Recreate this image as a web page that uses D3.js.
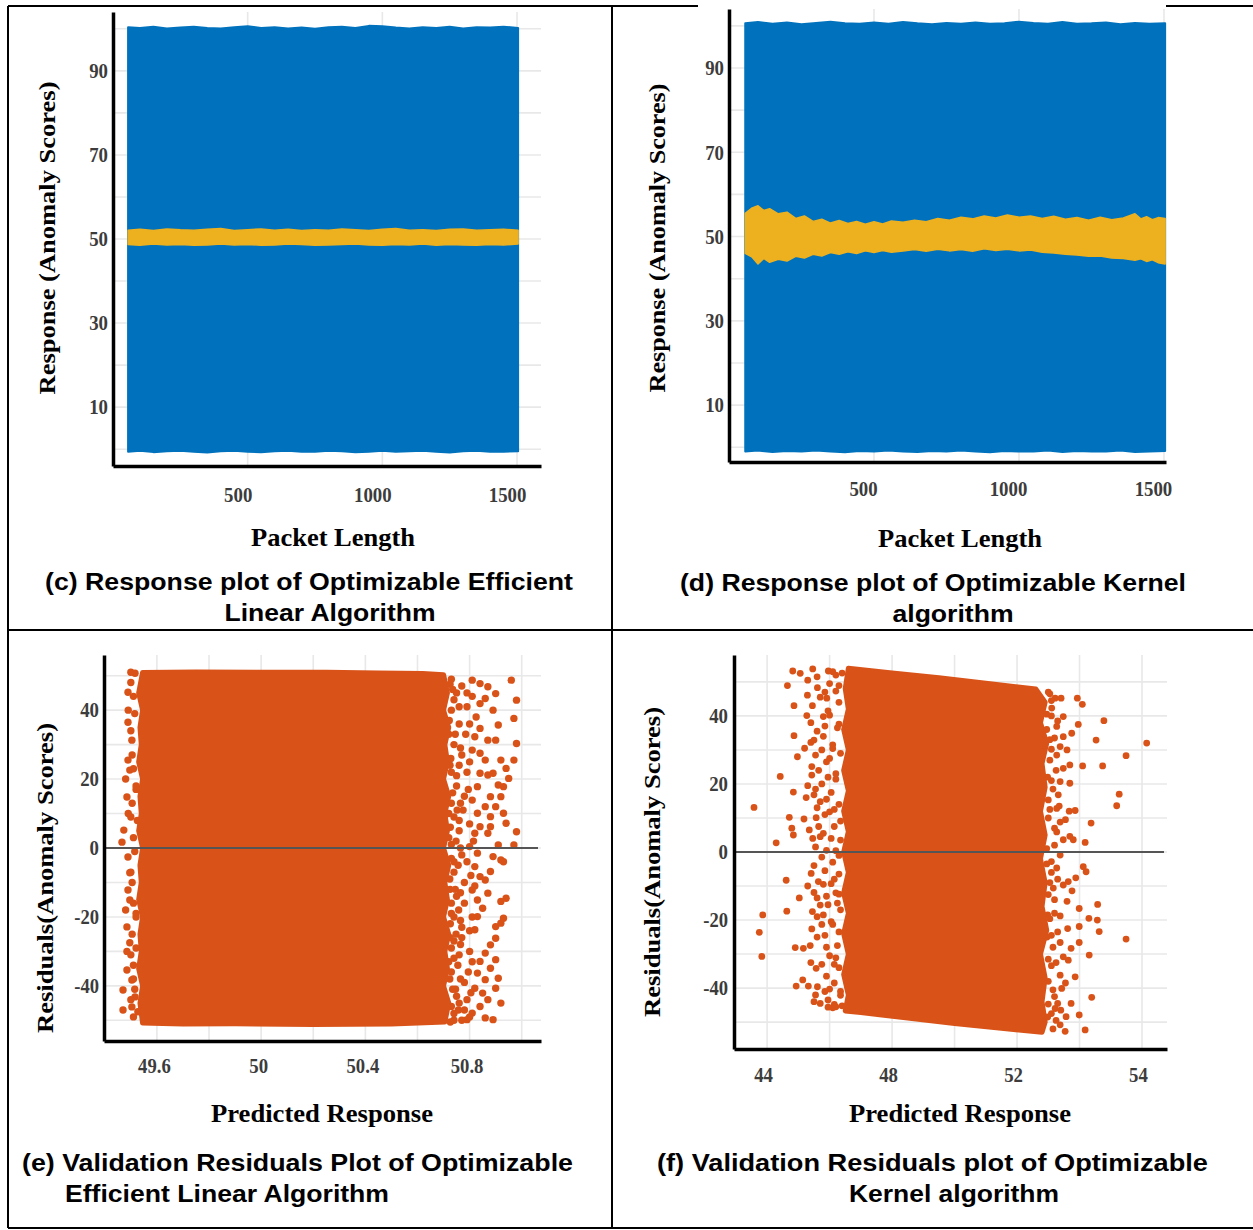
<!DOCTYPE html>
<html>
<head>
<meta charset="utf-8">
<script src="https://cdn.jsdelivr.net/npm/d3@7"></script>
<style>
  body { margin: 0; background: #fff; }
  svg { display: block; }
</style>
</head>
<body>
<svg id="fig" width="1253" height="1230"></svg>
<script>
// ---- (c) / (d) response plots: packet length vs anomaly score ----
var packetLen = [56, 100, 150, 200, 250, 300, 350, 400, 450, 500, 550, 600, 650, 700, 750,
  800, 850, 900, 950, 1000, 1050, 1100, 1150, 1200, 1250, 1300, 1350, 1400, 1450, 1504];

var cTrueTop = [100.4, 100.2, 100.5, 100.1, 100.3, 100.5, 100.2, 100.1, 100.4, 100.6, 100.2, 100.4, 100.1, 100.3, 100.0,
  100.4, 100.5, 100.2, 100.7, 100.6, 100.3, 100.1, 100.4, 100.2, 100.5, 100.1, 100.4, 100.3, 100.5, 100.2];
var cTrueBottom = [-0.6, -0.4, -0.7, -0.5, -0.4, -0.6, -0.8, -0.5, -0.4, -0.6, -0.7, -0.5, -0.4, -0.6, -0.6,
  -0.4, -0.5, -0.7, -0.6, -0.4, -0.6, -0.5, -0.4, -0.6, -0.8, -0.5, -0.4, -0.6, -0.6, -0.5];
var cPredTop = [52.1, 52.3, 52.0, 52.4, 52.2, 52.1, 52.3, 52.5, 52.0, 52.2, 52.4, 52.1, 52.3, 52.0, 52.2,
  52.1, 52.4, 52.2, 52.0, 52.3, 52.5, 52.1, 52.2, 52.0, 52.3, 52.4, 52.1, 52.2, 52.3, 52.1];
var cPredBottom = [48.7, 48.5, 48.8, 48.6, 48.7, 48.5, 48.6, 48.8, 48.6, 48.7, 48.5, 48.6, 48.8, 48.7, 48.5,
  48.6, 48.7, 48.8, 48.6, 48.5, 48.7, 48.6, 48.8, 48.5, 48.7, 48.6, 48.5, 48.7, 48.6, 48.8];

var dTrueTop = [100.6, 100.9, 100.5, 100.8, 100.4, 100.7, 101.0, 100.6, 100.5, 100.8, 100.5, 100.9, 100.6, 100.4, 100.7,
  100.5, 100.8, 100.5, 100.6, 101.0, 100.7, 100.5, 100.9, 100.5, 100.6, 100.8, 100.4, 100.7, 100.5, 100.6];
var dTrueBottom = [-1.0, -0.8, -1.1, -0.9, -1.0, -0.8, -1.0, -1.2, -0.9, -1.0, -0.8, -1.0, -1.1, -0.9, -1.0,
  -0.8, -1.0, -1.2, -0.9, -1.0, -1.0, -0.8, -1.1, -0.9, -1.0, -1.0, -0.8, -1.1, -1.0, -0.9];

var dPredX = [56, 80, 100, 120, 140, 170, 200, 230, 260, 290, 320, 350, 380, 410, 440, 470, 500, 530, 560, 600,
  640, 680, 720, 760, 800, 840, 880, 920, 960, 1000, 1040, 1080, 1120, 1160, 1200, 1240, 1280, 1320, 1360, 1400,
  1420, 1440, 1460, 1480, 1504];
var dPredTop = [55.5, 56.8, 57.3, 56.2, 56.6, 55.4, 55.8, 54.3, 54.9, 53.6, 54.1, 53.2, 53.8, 53.1, 53.6, 52.9,
  53.5, 53.0, 53.7, 53.4, 53.9, 53.5, 54.3, 53.9, 54.6, 54.2, 54.9, 54.4, 55.1, 54.6, 54.9, 54.3, 54.8, 54.1,
  54.5, 53.9, 54.6, 54.0, 54.4, 55.4, 54.2, 54.7, 54.0, 54.5, 54.3];
var dPredBottom = [46.0, 45.1, 43.5, 44.8, 43.9, 44.6, 44.2, 45.3, 44.9, 45.8, 45.4, 46.2, 45.8, 46.4, 46.0, 46.6,
  46.2, 46.7, 46.3, 46.6, 46.9, 46.5, 47.0, 46.6, 46.9, 46.5, 47.1, 46.7, 47.0, 46.6, 46.8, 46.3, 46.1, 45.8,
  45.6, 45.3, 45.4, 44.9, 44.8, 44.4, 44.7, 44.1, 44.5, 43.8, 43.5];

var respYTicks = [10, 30, 50, 70, 90];
var respYLabels = ["10", "30", "50", "70", "90"];
var respXTicks = [500, 1000, 1500];
var respXLabels = ["500", "1000", "1500"];

// ---- (e) residuals, efficient linear: [predicted, residual] ----
var eCore = [[49.545, 50.9], [49.75, 51.1], [50.0, 51.0], [50.25, 51.0], [50.45, 50.8], [50.62, 50.6], [50.70, 50.3],
  [50.715, 45], [50.70, 40], [50.72, 35], [50.705, 30], [50.715, 25], [50.70, 20], [50.72, 15], [50.705, 10],
  [50.715, 5], [50.70, 0], [50.72, -5], [50.705, -10], [50.715, -15], [50.70, -20], [50.72, -25], [50.705, -30],
  [50.715, -35], [50.70, -40], [50.72, -45], [50.705, -50.5],
  [50.5, -51.1], [50.2, -51.2], [49.9, -51.0], [49.7, -51.1], [49.545, -50.8],
  [49.535, -45], [49.545, -40], [49.53, -35], [49.54, -30], [49.535, -25], [49.545, -20], [49.53, -15],
  [49.54, -10], [49.535, -5], [49.545, 0], [49.53, 5], [49.54, 10], [49.535, 15], [49.545, 20], [49.53, 25],
  [49.54, 30], [49.535, 35], [49.545, 40], [49.53, 45]];
var eEdgeDots = [
  [49.516, 50.7], [49.489, 45.2], [49.489, 36.5], [49.504, 31.3], [49.489, 25.5], [49.496, 22.6], [49.485, 14.8],
  [49.473, 5.2], [49.466, 1.7], [49.489, -2.6], [49.496, -7.2], [49.489, -12.2], [49.496, -15.1], [49.485, -22.9],
  [49.496, -27.5], [49.485, -35.4], [49.504, -38.3], [49.470, -41.2], [49.470, -47], [49.504, -46.1], [49.516, -43.2],
  [49.527, -47.5], [49.52, 18], [49.52, -20], [49.51, 44], [49.51, -38], [49.525, 8], [49.52, -29],
  [49.50, 48], [49.515, 39], [49.505, 27], [49.52, 17], [49.50, 9], [49.515, -1], [49.505, -10], [49.52, -19],
  [49.50, -31], [49.515, -41], [49.51, -49], [49.485, -30], [49.48, 20], [49.49, 40],
  [49.5, 34], [49.51, 23], [49.505, 13], [49.51, 3], [49.5, -7], [49.51, -16], [49.505, -25], [49.51, -34],
  [49.5, -44], [49.49, 10], [49.48, -18], [49.5, 51],
  [50.96, 48.7], [50.98, 42.9], [50.97, 37.6], [50.98, 30.3], [50.97, 25.5], [50.92, 25.5], [50.94, 23.1],
  [50.95, 20.2], [50.91, 18.3], [50.93, 17.8], [50.92, 14.9], [50.93, 10.1], [50.94, 7.2], [50.98, 4.7],
  [50.97, 0.9], [50.91, 0.9], [50.92, -3.5], [50.93, -4], [50.88, -6.8], [50.94, -14.6], [50.92, -15.5],
  [50.93, -20.4], [50.92, -21.8], [50.90, -26.2], [50.88, -28.1], [50.90, -32.4], [50.88, -34.9], [50.91, -37.8],
  [50.90, -40.7], [50.92, -45], [50.89, -49.8], [50.86, -49.3], [50.87, -44], [50.85, -42.1], [50.86, -38.2],
  [50.90, -22.8], [50.85, -17.5], [50.87, -13.1], [50.86, -9.3], [50.89, -2.5], [50.87, 4.3], [50.88, 6.2],
  [50.88, 9.1], [50.86, 12], [50.90, 12], [50.88, 14.9], [50.89, 21.7], [50.87, 21.2], [50.86, 25.5],
  [50.90, 31.3], [50.91, 35.7], [50.89, 40], [50.90, 44.8], [50.87, 46.8], [50.84, 47.7], [50.81, 48.7],
  [50.86, 43.4], [50.84, 41.9], [50.84, 34.7], [50.87, 31.3], [50.82, 32.3], [50.81, 28.4], [50.84, 27.5],
  [50.84, 21.7], [50.83, 17.8], [50.81, 13.9], [50.83, 10.1], [50.84, 6.2], [50.82, 4.3], [50.80, 0.4],
  [50.83, -1.5], [50.82, -5.4], [50.84, -8.3], [50.81, -12.2], [50.83, -15.1], [50.83, -19.9], [50.82, -23.7],
  [50.86, -30.5], [50.84, -32.9], [50.83, -36.3], [50.82, -40.7], [50.84, -46], [50.81, -47.9], [50.79, -49.8],
  [50.73, 49], [50.75, 45], [50.73, 40], [50.76, 36], [50.74, 30], [50.77, 27], [50.73, 22], [50.75, 18],
  [50.78, 15], [50.74, 9], [50.76, 5], [50.73, 1], [50.77, -2], [50.74, -7], [50.78, -10], [50.75, -14],
  [50.73, -19], [50.77, -23], [50.74, -27], [50.76, -31], [50.73, -36], [50.78, -39], [50.75, -43], [50.74, -48],
  [50.77, -50], [50.79, 41], [50.79, 22], [50.80, -30], [50.79, -44], [50.80, 7],
  [50.725, 47.5], [50.74, 43], [50.722, 37], [50.745, 33], [50.728, 26], [50.75, 21], [50.73, 13], [50.752, 11],
  [50.726, 6], [50.748, 2], [50.73, -3], [50.756, -5], [50.724, -9], [50.745, -12], [50.73, -16], [50.758, -18],
  [50.726, -22], [50.748, -25], [50.73, -29], [50.755, -34], [50.724, -38], [50.746, -41], [50.73, -46],
  [50.757, -47], [50.726, -50.5], [50.77, 47], [50.785, 33], [50.775, 11], [50.79, -4], [50.78, -16], [50.77, -26],
  [50.795, -36], [50.78, -47], [50.81, 44], [50.80, 25], [50.815, 2], [50.81, -20], [50.805, -42], [50.825, 38],
  [50.82, -11],
  [50.735, 46], [50.76, 41], [50.72, 33], [50.765, 29], [50.725, 24], [50.76, 24], [50.735, 16], [50.765, 13],
  [50.72, 10], [50.76, 8], [50.72, 3], [50.765, 0], [50.74, -4], [50.725, -12], [50.765, -13], [50.74, -20],
  [50.765, -21], [50.725, -26], [50.765, -28], [50.74, -32], [50.72, -33], [50.765, -38], [50.735, -41],
  [50.76, -45], [50.74, -50], [50.79, 45], [50.8, 36], [50.795, 17], [50.805, -8], [50.8, -24], [50.81, -33],
  [50.8, -49]];
var eXTicks = [49.6, 50, 50.4, 50.8];
var eXLabels = ["49.6", "50", "50.4", "50.8"];
var resYTicks = [-40, -20, 0, 20, 40];
var resYLabels = ["-40", "-20", "0", "20", "40"];

// ---- (f) residuals, kernel ----
var fCore = [[46.6, 54.0], [48.0, 52.6], [49.5, 51.2], [51.0, 49.6], [52.6, 47.9],
  [52.9, 44], [52.75, 38], [52.95, 32], [52.8, 26], [52.9, 19], [52.75, 12], [52.9, 5], [52.75, -2],
  [52.9, -9], [52.8, -16], [52.95, -23], [52.75, -30], [52.9, -37], [52.8, -44], [52.9, -50], [52.8, -53.0],
  [51.5, -51.8], [50.0, -50.4], [48.5, -48.8], [47.0, -47.2], [46.5, -46.7],
  [46.6, -42], [46.45, -36], [46.6, -30], [46.45, -24], [46.6, -18], [46.45, -12], [46.6, -6], [46.45, 0],
  [46.6, 6], [46.45, 12], [46.6, 18], [46.45, 24], [46.6, 30], [46.45, 36], [46.6, 42], [46.5, 48]];
var fEdgeDots = [
  [43.58, 13.1], [44.29, 2.7], [44.42, 22.2], [44.61, -8.3], [43.86, -18.5], [43.75, -23.6], [43.83, -30.7],
  [44.63, -17.4], [45.03, -13.5], [44.82, 53.2], [45.06, 52.5], [45.46, 53.8], [44.65, 48.9], [44.86, 43.0],
  [44.86, 34.2], [44.97, 28.0], [44.84, 17.6], [44.71, 10.2], [44.79, 7.0], [44.84, 5.0], [45.29, 46.1],
  [45.27, 40.1], [45.61, 48.3], [45.40, 32.2], [45.50, 32.9], [45.43, 25.1], [45.43, 22.6], [45.25, 16.0],
  [45.50, 16.8], [45.70, 14.8], [45.18, 9.7], [45.57, 10.1], [45.46, 4.0], [45.70, 4.5], [45.41, -6.3],
  [45.64, -8.7], [45.50, -11.9], [44.90, -28.1], [45.16, -28.3], [45.38, -27.5], [45.57, -34.2], [45.14, -37.6],
  [44.93, -39.4], [45.32, -39.4], [45.61, -39.6], [45.70, -44.5], [45.43, -22.6], [45.75, -21.3], [45.70, -15.6],
  [45.80, 39.8], [45.91, 45.2], [45.96, 53.2],
  [46.1, 53.0], [46.4, 52.6], [46.2, 47.3], [46.0, 40.2], [46.3, 37.6], [46.1, 30.4], [46.2, 21.4], [46.0, 11.8],
  [46.35, 9.1], [46.2, 0.4], [46.05, -9.3], [46.3, -12.4], [46.1, -21.3], [46.2, -31.1], [46.0, -40.3],
  [46.35, -42.1], [46.4, -45.2], [46.15, -44.8], [46.3, 48.9],
  [46.2, 52.0], [46.0, 49.5], [45.85, 47.0], [46.3, 44.0], [45.95, 41.5], [46.25, 36.5], [45.8, 34.0],
  [46.1, 31.5], [46.35, 29.0], [45.9, 26.5], [46.2, 23.0], [45.75, 20.0], [46.05, 17.5], [46.3, 14.0],
  [45.85, 11.0], [46.15, 7.5], [46.35, 3.5], [45.9, 0.5], [46.1, -3.0], [46.3, -6.5], [45.8, -9.5], [46.2, -12.0],
  [45.95, -15.5], [46.35, -17.0], [46.05, -20.5], [45.85, -24.5], [46.25, -27.5], [46.0, -30.5], [46.3, -34.0],
  [45.9, -36.5], [46.15, -38.5], [46.35, -41.0], [45.95, -43.5], [46.2, -45.5], [45.6, 51.5], [45.55, 28.5],
  [45.65, 7.5], [45.6, -19.0], [45.55, -42.0], [45.4, 38.0],
  [45.3, 50.5], [45.7, 45.5], [45.45, 43.0], [45.85, 37.0], [45.6, 35.5], [45.2, 30.5], [45.75, 30.0], [46.0, 27.5],
  [45.65, 24.0], [45.95, 22.0], [45.3, 19.5], [45.55, 18.5], [45.9, 15.5], [46.15, 12.5], [45.6, 13.0], [45.35, 6.5],
  [45.8, 5.5], [46.05, 4.0], [45.55, 1.5], [45.75, -1.5], [46.3, -1.0], [45.5, -4.0], [45.85, -5.5], [46.15, -8.0],
  [45.3, -10.0], [45.6, -13.5], [45.9, -13.0], [46.25, -15.0], [45.45, -17.5], [45.8, -18.5], [46.3, -23.5],
  [45.6, -25.0], [45.9, -28.0], [46.15, -33.0], [45.4, -32.5], [45.75, -33.0], [45.85, -41.0], [45.5, -44.0],
  [46.1, -45.8], [45.95, -45.6],
  [56.15, 32.0], [55.49, 28.3], [54.78, 38.6], [54.53, 32.9], [54.74, 25.3], [54.10, 25.3], [55.27, 17.0],
  [55.19, 13.6], [54.37, 8.5], [54.18, 2.8], [53.93, 45.2], [54.09, 43.4], [53.96, 37.5], [53.75, 34.9],
  [54.12, -4.3], [54.21, -5.8], [53.88, -7.6], [54.58, -15.4], [54.30, -19.5], [54.57, -20.0], [54.63, -23.4],
  [55.49, -25.6], [53.99, -16.6], [53.99, -21.9], [54.31, -30.3], [53.99, -26.6], [54.39, -42.7], [54.18, -52.3],
  [53.99, -47.9], [53.73, -44.5], [53.86, -36.7], [53.64, -31.8], [53.73, -28.3], [53.62, -22.5], [53.76, -11.4],
  [53.64, -8.7], [53.80, 3.6], [53.69, 4.6], [53.48, 3.6], [53.67, 12.0], [53.86, 12.2], [53.69, 20.2],
  [53.69, 25.6], [53.48, 24.6], [53.48, 33.9], [53.48, 39.8], [53.41, 45.2], [53.22, 45.2], [53.57, -48.4],
  [53.38, -50.8], [53.54, -52.7], [53.22, -46.0], [53.38, -36.2], [53.43, -40.1], [53.48, -30.8], [53.38, -26.6],
  [53.38, -18.8], [53.48, -9.7], [53.16, -10.6], [53.27, -4.7], [53.38, -0.9], [53.27, 5.9], [53.38, 8.8],
  [53.27, 12.8], [53.32, 16.8], [53.38, 20.7], [53.27, 28.5], [53.38, 31.0], [53.27, 36.9], [53.11, 42.3],
  [53.05, 46.5], [53.1, 30.2], [53.0, 15.3], [53.1, -2.8], [53.05, -19.6], [53.1, -33.4], [53.0, -44.7], [53.15, -52.0],
  [53.0, 47.0], [53.1, 40.0], [52.95, 36.0], [53.2, 33.5], [53.05, 27.0], [52.98, 22.0], [53.15, 18.5], [53.0, 10.0],
  [53.2, 7.0], [52.95, 1.0], [53.1, -6.0], [53.0, -12.5], [53.2, -14.0], [52.96, -25.0], [53.15, -28.0],
  [53.0, -38.0], [53.2, -42.5], [52.98, -48.5], [53.25, -49.5],
  [53.1, 44.5], [52.95, 40.5], [53.3, 38.5], [53.05, 33.0], [53.25, 24.0], [53.1, 21.0], [53.35, 13.5], [53.05, 12.5],
  [53.2, 2.0], [52.95, -3.5], [53.3, -8.0], [53.05, -9.0], [53.2, -18.0], [52.98, -18.5], [53.3, -23.5],
  [53.1, -24.5], [53.25, -32.5], [53.0, -31.5], [53.15, -40.5], [53.3, -44.5], [53.1, -47.5], [53.4, -46.5],
  [53.55, -38.5], [53.6, -14.5], [53.55, 9.5], [53.6, 30.0]];
var fXTicks = [44, 48, 52, 56];
var fXLabels = ["44", "48", "52", "54"];

var BLUE = "#0072bd", YELLOW = "#edb120", ORANGE = "#d95319";
var SERIF = "'Liberation Serif', 'Times New Roman', serif";
var SANS = "'Liberation Sans', Arial, sans-serif";

var svg = d3.select("#fig");

// table frame
var frame = svg.append("g").attr("stroke", "#000").attr("stroke-width", 2);
[[8, 6, 698, 6], [1166, 6, 1253, 6], [8, 630, 1253, 630], [8, 1228, 1253, 1228],
 [8, 6, 8, 1228], [612, 6, 612, 1228]].forEach(function (s) {
  frame.append("line").attr("x1", s[0]).attr("y1", s[1]).attr("x2", s[2]).attr("y2", s[3]);
});

function fitText(x, y, str, o) {
  var t = svg.append("text")
    .attr("x", x).attr("y", y)
    .attr("font-family", o.family)
    .attr("font-size", o.size)
    .attr("font-weight", "bold")
    .attr("text-anchor", o.anchor || "middle")
    .attr("dominant-baseline", "central")
    .attr("fill", o.fill || "#000")
    .text(str);
  if (o.width) t.attr("textLength", o.width).attr("lengthAdjust", "spacingAndGlyphs");
  if (o.rotate) t.attr("transform", "rotate(-90," + x + "," + y + ")");
  return t;
}

function tickWidth(s) {
  var w = 0;
  for (var i = 0; i < s.length; i++) w += s[i] === "." ? 4.5 : s[i] === "-" ? 6 : 9.4;
  return w;
}

function panel(p) {
  var x = d3.scaleLinear().domain(p.xDomain).range([p.left, p.right]);
  var y = d3.scaleLinear().domain(p.yDomain).range([p.bottom, p.top]);
  var g = svg.append("g");

  var grid = g.append("g").attr("stroke", "#e8e8e8").attr("stroke-width", 1.6);
  grid.selectAll(".gx").data(p.xGrid).enter().append("line")
    .attr("x1", function (d) { return x(d); }).attr("x2", function (d) { return x(d); })
    .attr("y1", p.top).attr("y2", p.bottom);
  grid.selectAll(".gy").data(p.yGrid).enter().append("line")
    .attr("x1", p.left).attr("x2", p.right)
    .attr("y1", function (d) { return y(d); }).attr("y2", function (d) { return y(d); });

  var marks = g.append("g");

  var gx = g.append("g").attr("transform", "translate(0," + p.bottom + ")")
    .call(d3.axisBottom(x).tickValues(p.xTicks).tickSizeInner(0).tickSizeOuter(0)
      .tickFormat(function (d, i) { return p.xLabels[i]; }));
  var gy = g.append("g").attr("transform", "translate(" + p.left + ",0)")
    .call(d3.axisLeft(y).tickValues(p.yTicks).tickSizeInner(0).tickSizeOuter(0).tickPadding(p.yPad)
      .tickFormat(function (d, i) { return p.yLabels[i]; }));
  [gx, gy].forEach(function (a) {
    a.select(".domain").attr("stroke", "#000").attr("stroke-width", 3.5);
    a.selectAll("text")
      .attr("font-family", SERIF).attr("font-size", 21).attr("font-weight", "bold")
      .attr("fill", "#3c3c3c")
      .each(function () {
        d3.select(this).attr("textLength", tickWidth(this.textContent)).attr("lengthAdjust", "spacingAndGlyphs");
      });
  });
  gx.selectAll("text").attr("y", p.xLabelOff).attr("dy", "0.35em").attr("dx", p.xLabelDx);

  return { x: x, y: y, marks: marks };
}

function responsePanel(p, trueTop, trueBottom, predX, predTop, predBottom) {
  var P = panel(p);
  var band = function (xs, hi, lo) {
    return d3.area()
      .x(function (d) { return P.x(d); })
      .y0(function (d, i) { return P.y(lo[i]); })
      .y1(function (d, i) { return P.y(hi[i]); })(xs);
  };
  P.marks.append("path").attr("d", band(packetLen, trueTop, trueBottom))
    .attr("fill", BLUE).attr("stroke", BLUE).attr("stroke-width", 2).attr("stroke-linejoin", "round");
  P.marks.append("path").attr("d", band(predX, predTop, predBottom))
    .attr("fill", YELLOW).attr("stroke", YELLOW).attr("stroke-width", 1.5).attr("stroke-linejoin", "round");
}

function residualPanel(p, core, dots, r) {
  var P = panel(p);
  var line = d3.line().x(function (d) { return P.x(d[0]); }).y(function (d) { return P.y(d[1]); });
  P.marks.append("path").attr("d", line(core) + "Z")
    .attr("fill", ORANGE).attr("stroke", ORANGE).attr("stroke-width", 5).attr("stroke-linejoin", "round");
  P.marks.selectAll("circle").data(dots).enter().append("circle")
    .attr("cx", function (d) { return P.x(d[0]); })
    .attr("cy", function (d) { return P.y(d[1]); })
    .attr("r", r).attr("fill", ORANGE);
  P.marks.append("line")
    .attr("x1", p.left).attr("x2", p.right - 3)
    .attr("y1", P.y(0)).attr("y2", P.y(0))
    .attr("stroke", "#555").attr("stroke-width", 1.8);
}

var gridResp = [0, 10, 20, 30, 40, 50, 60, 70, 80, 90, 100];
var gridRes = [-50, -40, -30, -20, -10, 0, 10, 20, 30, 40, 50];

responsePanel({
  left: 113, right: 541, top: 12, bottom: 466, xDomain: [0, 1589], yDomain: [-4, 104],
  xGrid: [500, 1000, 1500], yGrid: gridResp, xTicks: respXTicks, xLabels: respXLabels,
  yTicks: respYTicks, yLabels: respYLabels, yPad: 5, xLabelOff: 29, xLabelDx: -10
}, cTrueTop, cTrueBottom, packetLen, cPredTop, cPredBottom);

responsePanel({
  left: 729, right: 1166, top: 9, bottom: 462, xDomain: [0, 1507], yDomain: [-3.5, 104],
  xGrid: [500, 1000, 1500], yGrid: gridResp, xTicks: respXTicks, xLabels: respXLabels,
  yTicks: respYTicks, yLabels: respYLabels, yPad: 5, xLabelOff: 27, xLabelDx: -11
}, dTrueTop, dTrueBottom, dPredX, dPredTop, dPredBottom);

residualPanel({
  left: 104, right: 541, top: 655, bottom: 1041, xDomain: [49.397, 51.074], yDomain: [-56, 56],
  xGrid: [49.6, 49.8, 50, 50.2, 50.4, 50.6, 50.8, 51.0], yGrid: gridRes, xTicks: eXTicks, xLabels: eXLabels,
  yTicks: resYTicks, yLabels: resYLabels, yPad: 5, xLabelOff: 25, xLabelDx: -3
}, eCore, eEdgeDots, 3.7);

residualPanel({
  left: 734, right: 1167, top: 655, bottom: 1049, xDomain: [42.94, 56.8], yDomain: [-57.9, 57.9],
  xGrid: [44, 46, 48, 50, 52, 54, 56], yGrid: gridRes, xTicks: fXTicks, xLabels: fXLabels,
  yTicks: resYTicks, yLabels: resYLabels, yPad: 6, xLabelOff: 26, xLabelDx: -4
}, fCore, fEdgeDots, 3.4);

// axis titles
fitText(333, 537, "Packet Length", { family: SERIF, size: 26, width: 164 });
fitText(960, 538, "Packet Length", { family: SERIF, size: 26, width: 164 });
fitText(322, 1113, "Predicted Response", { family: SERIF, size: 26, width: 222 });
fitText(960, 1113, "Predicted Response", { family: SERIF, size: 26, width: 222 });
fitText(47, 238, "Response (Anomaly Scores)", { family: SERIF, size: 24, width: 313, rotate: true });
fitText(657, 238, "Response (Anomaly Scores)", { family: SERIF, size: 24, width: 309, rotate: true });
fitText(45, 878, "Residuals(Anomaly Scores)", { family: SERIF, size: 24, width: 310, rotate: true });
fitText(652, 862, "Residuals(Anomaly Scores)", { family: SERIF, size: 24, width: 310, rotate: true });

// captions
fitText(309, 582, "(c) Response plot of Optimizable Efficient", { family: SANS, size: 23, width: 528 });
fitText(330, 613, "Linear Algorithm", { family: SANS, size: 23, width: 211 });
fitText(933, 583, "(d) Response plot of Optimizable Kernel", { family: SANS, size: 23, width: 506 });
fitText(953, 614, "algorithm", { family: SANS, size: 23, width: 121 });
fitText(22, 1163, "(e) Validation Residuals Plot of Optimizable", { family: SANS, size: 23, width: 551, anchor: "start" });
fitText(65, 1194, "Efficient Linear Algorithm", { family: SANS, size: 23, width: 324, anchor: "start" });
fitText(657, 1163, "(f)  Validation Residuals plot of Optimizable", { family: SANS, size: 23, width: 551, anchor: "start" });
fitText(954, 1194, "Kernel algorithm", { family: SANS, size: 23, width: 210 });
</script>
</body>
</html>
